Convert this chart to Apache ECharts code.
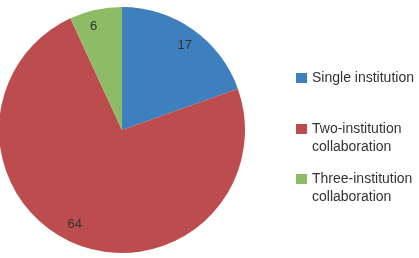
<!DOCTYPE html>
<html><head><meta charset="utf-8">
<script src="https://cdn.jsdelivr.net/npm/echarts@6/dist/echarts.min.js"></script>
<style>html,body{margin:0;padding:0;background:#fff}#c{width:419px;height:258px}</style>
</head><body><div id="c"></div>
<script>
const categories = ["Single institution", "Two-institution\ncollaboration", "Three-institution\ncollaboration"];
const values = [17, 64, 6];
const colors = ["#3e7fbd", "#bd4c4f", "#8dbb66"];

const font = "'Liberation Sans', Arial, Helvetica, sans-serif";
const data = categories.map((c, i) => ({ name: c, value: values[i], itemStyle: { color: colors[i] } }));
const legendTops = [69, 102, 152];
const labelNudge = [[0, 5], [-5, -6], [-5, 3]];
const chart = echarts.init(document.getElementById('c'), null, { renderer: 'canvas' });
chart.setOption({
  animation: false,
  legend: categories.map((c, i) => ({
    orient: 'vertical',
    left: 296, top: legendTops[i], padding: 0,
    itemWidth: 11, itemHeight: 10,
    icon: 'rect',
    textStyle: { fontFamily: font, fontSize: 14, color: '#333', lineHeight: 18 },
    formatter: n => (n.indexOf('\n') >= 0 ? ' \n' + n : n),
    data: [{ name: c }]
  })),
  series: [
    {
      type: 'pie', center: [122, 130], radius: [0, 123], startAngle: 90, clockwise: true,
      label: { show: false }, labelLine: { show: false }, silent: true,
      data: data
    },
    {
      type: 'pie', center: [122, 130], radius: [88, 124], startAngle: 90, clockwise: true,
      silent: true, legendHoverLink: false,
      label: { show: true, position: 'inside', fontFamily: font, fontSize: 13, color: '#333', formatter: '{c}' },
      labelLine: { show: false },
      labelLayout: p => ({ dx: labelNudge[p.dataIndex][0], dy: labelNudge[p.dataIndex][1] }),
      data: categories.map((c, i) => ({ name: c, value: values[i], itemStyle: { color: 'rgba(0,0,0,0)' } }))
    }
  ]
});
</script></body></html>
